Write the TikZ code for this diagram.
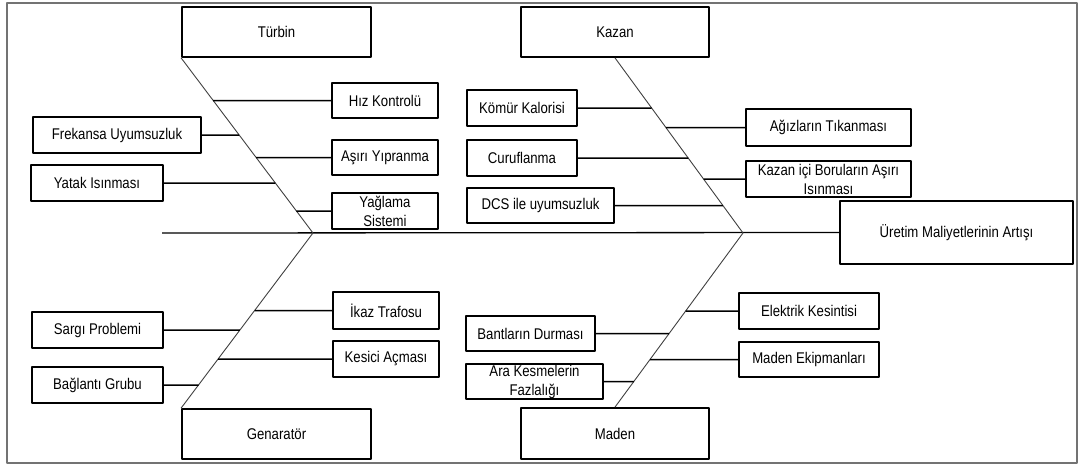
\documentclass[tikz,border=0pt]{standalone}
\usepackage{fontspec}
\setmainfont{Liberation Sans}[FakeStretch=0.85]
\begin{document}
\begin{tikzpicture}
% Fishbone diagram, coordinates in pixels of the source figure
\def\pxsz{1pt}
\providecommand{\fbFrameColor}{black!55}
\providecommand{\fbBoneColor}{black!75}
\providecommand{\fbBoxLineWidth}{1.8pt}
\providecommand{\fbBoneLineWidth}{0.9pt}
\providecommand{\fbBranchLineWidth}{1.5pt}
\tikzset{
  causebox/.style={draw=black, fill=white, line width=\fbBoxLineWidth, inner sep=0pt,
    align=center, font=\fontsize{15.5}{19}\selectfont},
  bone/.style={draw=\fbBoneColor, line width=\fbBoneLineWidth},
  branch/.style={draw=black, line width=\fbBranchLineWidth},
}
\begin{scope}[x=\pxsz, y=-\pxsz, line join=round]
  \useasboundingbox (0,0) rectangle (1081,465);
  % Outer frame
  \draw[draw=\fbFrameColor, line width=1.2pt] (7,3) rectangle (1077,463);
  % Main categories
  \node[causebox, minimum width=189, minimum height=50] (turbin) at (276.5,32) {Türbin};
  \node[causebox, minimum width=188, minimum height=50] (kazan) at (615,32) {Kazan};
  \node[causebox, minimum width=189, minimum height=50] (genarator) at (276.5,434) {Genaratör};
  \node[causebox, minimum width=188, minimum height=51] (maden) at (615,433.5) {Maden};
  % Effect
  \node[causebox, minimum width=233, minimum height=63] (uretim) at (956.5,232.5) {Üretim Maliyetlerinin Artışı};
  % Causes of Türbin
  \node[causebox, minimum width=106, minimum height=35] (hiz) at (385,100.5) {Hız Kontrolü};
  \node[causebox, minimum width=106, minimum height=35] (asiri) at (385,157.5) {Aşırı Yıpranma};
  \node[causebox, minimum width=106, minimum height=36] (yaglama) at (385,211) {Yağlama\\Sistemi};
  \node[causebox, minimum width=168, minimum height=36] (frekansa) at (117,135) {Frekansa Uyumsuzluk};
  \node[causebox, minimum width=132, minimum height=36] (yatak) at (97,183) {Yatak Isınması};
  % Causes of Kazan
  \node[causebox, minimum width=110, minimum height=36] (komur) at (522,108) {Kömür Kalorisi};
  \node[causebox, minimum width=110, minimum height=36] (curuf) at (522,158) {Curuflanma};
  \node[causebox, minimum width=147, minimum height=35] (dcs) at (540.5,205.5) {DCS ile uyumsuzluk};
  \node[causebox, minimum width=165, minimum height=37] (agiz) at (828.5,127.5) {Ağızların Tıkanması};
  \node[causebox, minimum width=165, minimum height=36] (boru) at (828.5,179) {Kazan içi Boruların Aşırı\\Isınması};
  % Causes of Genaratör
  \node[causebox, minimum width=131, minimum height=36] (sargi) at (97.5,330) {Sargı Problemi};
  \node[causebox, minimum width=131, minimum height=36] (baglanti) at (97.5,385) {Bağlantı Grubu};
  \node[causebox, minimum width=106, minimum height=37] (ikaz) at (386,310.5) {İkaz Trafosu};
  \node[causebox, minimum width=106, minimum height=36] (kesici) at (386,359) {Kesici Açması};
  % Causes of Maden
  \node[causebox, minimum width=129, minimum height=35] (bant) at (530.5,333.5) {Bantların Durması};
  \node[causebox, minimum width=137, minimum height=35] (ara) at (534.5,381.5) {Ara Kesmelerin\\Fazlalığı};
  \node[causebox, minimum width=140, minimum height=36] (elektrik) at (809,311) {Elektrik Kesintisi};
  \node[causebox, minimum width=140, minimum height=35] (ekipman) at (809,359.5) {Maden Ekipmanları};
  % Spine and bones
  \coordinate (tail) at (162,233);
  \coordinate (jl) at (313,233);
  \coordinate (jr) at (743,233);
  \draw[branch, line width=1.3pt] (tail) -- (uretim.west);
  \draw[bone] (turbin.south west) -- (jl) -- (genarator.north west);
  \draw[bone] (kazan.south) -- (jr) -- (maden.north);
  % Branches
  \draw[branch] (intersection of turbin.south west--jl and hiz.west--hiz.east) -- (hiz);
  \draw[branch] (intersection of turbin.south west--jl and asiri.west--asiri.east) -- (asiri);
  \draw[branch] (intersection of turbin.south west--jl and yaglama.west--yaglama.east) -- (yaglama);
  \draw[branch] (intersection of turbin.south west--jl and frekansa.west--frekansa.east) -- (frekansa);
  \draw[branch] (intersection of turbin.south west--jl and yatak.west--yatak.east) -- (yatak);
  \draw[branch] (intersection of kazan.south--jr and komur.west--komur.east) -- (komur);
  \draw[branch] (intersection of kazan.south--jr and curuf.west--curuf.east) -- (curuf);
  \draw[branch] (intersection of kazan.south--jr and dcs.west--dcs.east) -- (dcs);
  \draw[branch] (intersection of kazan.south--jr and agiz.west--agiz.east) -- (agiz);
  \draw[branch] (intersection of kazan.south--jr and boru.west--boru.east) -- (boru);
  \draw[branch] (intersection of genarator.north west--jl and sargi.west--sargi.east) -- (sargi);
  \draw[branch] (intersection of genarator.north west--jl and baglanti.west--baglanti.east) -- (baglanti);
  \draw[branch] (intersection of genarator.north west--jl and ikaz.west--ikaz.east) -- (ikaz);
  \draw[branch] (intersection of genarator.north west--jl and kesici.west--kesici.east) -- (kesici);
  \draw[branch] (intersection of maden.north--jr and bant.west--bant.east) -- (bant);
  \draw[branch] (intersection of maden.north--jr and ara.west--ara.east) -- (ara);
  \draw[branch] (intersection of maden.north--jr and elektrik.west--elektrik.east) -- (elektrik);
  \draw[branch] (intersection of maden.north--jr and ekipman.west--ekipman.east) -- (ekipman);
\end{scope}
\end{tikzpicture}
\end{document}
